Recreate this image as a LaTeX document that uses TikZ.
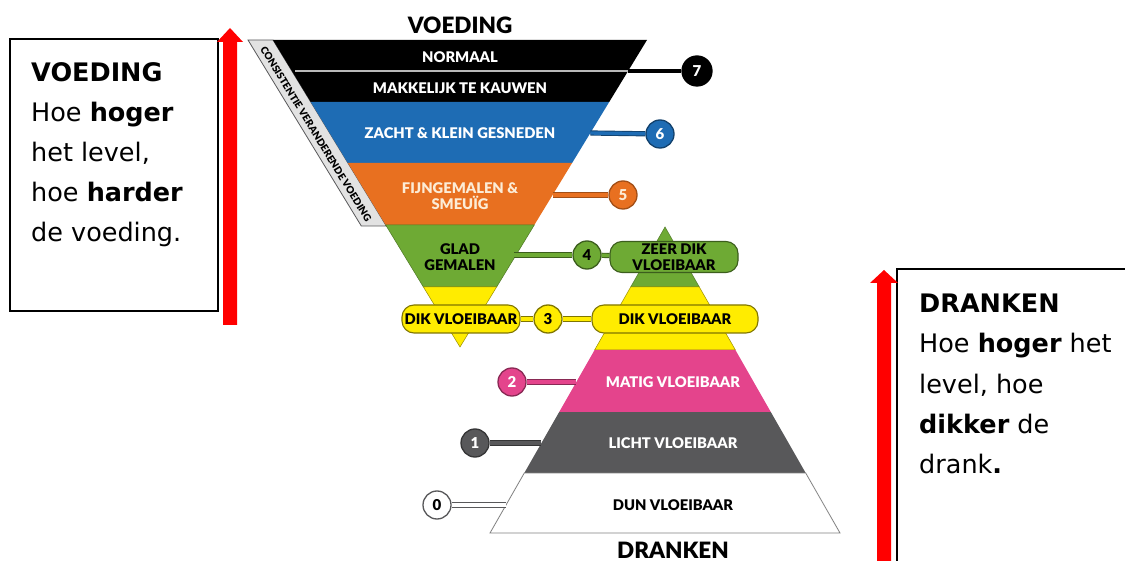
\documentclass[tikz,border=0pt]{standalone}
\usepackage{fontspec}
\setmainfont{DejaVu Sans}
\newfontfamily\lato{Lato}[BoldFont={Lato Black}]
\usetikzlibrary{calc}
\definecolor{vblue}{RGB}{30,108,180}
\definecolor{vorange}{RGB}{232,112,32}
\definecolor{vgreen}{RGB}{110,170,52}
\definecolor{vyellow}{RGB}{255,236,0}
\definecolor{vpink}{RGB}{228,68,140}
\definecolor{vgrey}{RGB}{88,88,90}
\definecolor{bandgrey}{RGB}{226,226,226}
\definecolor{cream}{RGB}{252,236,214}
\tikzset{
  lbl/.style={font=\lato\bfseries\fontsize{14.7}{16.5}\selectfont, align=center, inner sep=0},
  ttl/.style={font=\lato\bfseries\fontsize{22.5}{22.5}\selectfont, inner sep=0},
  num/.style={circle, minimum size=28pt, inner sep=0, line width=1.3pt, font=\lato\bfseries\fontsize{15}{15}\selectfont},
  conn/.style={line width=0.9pt, double distance=3.4pt},
  pill/.style={rounded corners=12pt, line width=1.1pt, inner sep=0, font=\lato\bfseries\fontsize{14.7}{16}\selectfont, align=center},
  boxtxt/.style={anchor=base west, inner sep=0, font=\fontsize{25.5}{30}\selectfont},
  frame/.style={draw=black, line width=1.6pt},
  redarrow/.style={fill=red, draw=none}
}
\begin{document}
\begin{tikzpicture}[x=1pt,y=-1pt]
\useasboundingbox (0,0) rectangle (1125,561);
\fill[white] (0,0) rectangle (1125,561);

% ---------- left text box ----------
\node[frame, anchor=north west, minimum width=208pt, minimum height=272pt, inner sep=0] (lbox) at (9,38) {};
\node[boxtxt] (l1) at (31,82) {\textbf{VOEDING}};
\node[boxtxt] (l2) at (31,122) {Hoe \textbf{hoger}};
\node[boxtxt] (l3) at (31,162) {het level,};
\node[boxtxt] (l4) at (31,202) {hoe \textbf{harder}};
\node[boxtxt] (l5) at (31,242) {de voeding.};
\fill[redarrow] (223,325) -- (223,42) -- (217,42) -- (230,28) -- (243,42) -- (237,42) -- (237,325) -- cycle;

% ---------- right text box ----------
\draw[frame] (1130,269) -- (897,269) -- (897,566);
\node[boxtxt] (r1) at (919,313) {\textbf{DRANKEN}};
\node[boxtxt] (r2) at (919,353) {Hoe \textbf{hoger} het};
\node[boxtxt] (r3) at (919,393) {level, hoe};
\node[boxtxt] (r4) at (919,433) {\textbf{dikker} de};
\node[boxtxt] (r5) at (919,473) {drank\textbf{.}};
\fill[redarrow] (877,566) -- (877,283) -- (870,283) -- (884,270) -- (898,283) -- (891,283) -- (891,566) -- cycle;

% ---------- VOEDING (inverted triangle) ----------
\node[ttl] (tv) at (460,25) {VOEDING};
\filldraw[fill=bandgrey, draw=vgrey, line width=0.8pt] (248,40) -- (273,40) -- (386.3,226) -- (361.3,226) -- cycle;
\node[inner sep=0, rotate=-58.6, font=\lato\bfseries\fontsize{10}{10}\selectfont] (side) at (316,134) {CONSISTENTIE VERANDERENDE VOEDING};
\fill[black] (273,40) -- (647,40) -- (609.2,102) -- (310.8,102) -- cycle;
\fill[vblue] (310.8,102) -- (609.2,102) -- (572.1,163) -- (347.9,163) -- cycle;
\fill[vorange] (347.9,163) -- (572.1,163) -- (534.3,225) -- (385.7,225) -- cycle;
\filldraw[fill=vgreen, draw=vgreen!70!black, line width=0.5pt] (385.7,225) -- (534.3,225) -- (496.6,287) -- (423.4,287) -- cycle;
\filldraw[fill=vyellow, draw=vyellow!60!black, line width=0.5pt] (423.4,287) -- (496.6,287) -- (460,347) -- cycle;

\node[lbl, text=white] (v7a) at (460,57) {NORMAAL};
\node[lbl, text=white] (v7b) at (460,88) {MAKKELIJK TE KAUWEN};
\node[lbl, text=white] (v6) at (460,133) {ZACHT \& KLEIN GESNEDEN};
\node[lbl, text=cream] (v5) at (460,196) {FIJNGEMALEN \&\\SMEUÏG};
\node[lbl, text=black] (v4) at (460,257) {GLAD\\GEMALEN};

% ---------- DRANKEN (pyramid) ----------
\filldraw[fill=vgreen, draw=vgreen!70!black, line width=0.5pt] (665,227) -- (699.3,287) -- (630.7,287) -- cycle;
\filldraw[fill=vyellow, draw=vyellow!60!black, line width=0.5pt] (630.7,287) -- (699.3,287) -- (735.4,350) -- (594.6,350) -- cycle;
\fill[vpink] (594.6,350) -- (735.4,350) -- (770.8,412) -- (559.2,412) -- cycle;
\fill[vgrey] (559.2,412) -- (770.8,412) -- (805.7,473) -- (524.3,473) -- cycle;
\filldraw[fill=white, draw=gray, line width=0.8pt] (524.3,473) -- (805.7,473) -- (840,533) -- (490,533) -- cycle;

\node[lbl, text=white] (d2) at (673,382) {MATIG VLOEIBAAR};
\node[lbl, text=white] (d1) at (673,443) {LICHT VLOEIBAAR};
\node[lbl, text=black] (d0) at (673,505) {DUN VLOEIBAAR};
\node[ttl] (td) at (673,550) {DRANKEN};

% ---------- edge points ----------
\coordinate (s7) at (295,71);
\coordinate (e7) at (628.1,71);
\coordinate (e6) at (590.4,133);
\coordinate (e5) at (552.6,195);
\coordinate (e4) at (514,255);
\coordinate (e2) at (576.3,382);
\coordinate (e1) at (541.4,443);
\coordinate (e0) at (506,505);

% ---------- circles and pills ----------
\node[num, minimum size=30pt, fill=black, draw=black, text=white] (c7) at (697,71) {7};
\node[num, fill=vblue, draw=vblue!60!black, text=white] (c6) at (660,134) {6};
\node[num, fill=vorange, draw=vorange!70!black, text=cream] (c5) at (623,195) {5};
\node[num, fill=vgreen, draw=vgreen!55!black, text=black] (c4) at (587,255) {4};
\node[num, fill=vyellow, draw=vyellow!50!black, text=black] (c3) at (548,319) {3};
\node[num, fill=vpink, draw=vpink!60!black, text=white] (c2) at (512,382) {2};
\node[num, fill=vgrey, draw=vgrey!60!black, text=white] (c1) at (475,443) {1};
\node[num, fill=white, draw=vgrey, text=black] (c0) at (437,505) {0};

\node[pill, fill=vyellow, draw=vyellow!50!black, minimum width=118pt, minimum height=28pt] (p3l) at (461,319) {DIK VLOEIBAAR};
\node[pill, fill=vyellow, draw=vyellow!50!black, minimum width=166pt, minimum height=28pt] (p3r) at (675,319) {DIK VLOEIBAAR};
\node[pill, fill=vgreen, draw=vgreen!55!black, minimum width=128pt, minimum height=31pt] (p4) at (674,257) {ZEER DIK\\VLOEIBAAR};

% ---------- connectors ----------
\draw[line width=1.6pt, color=gray!55] (s7) -- (e7);
\draw[line width=3.4pt, color=black] (e7) -- (c7);
\draw[conn, draw=vblue!60!black, double=vblue] (e6) -- (c6);
\draw[conn, draw=vorange!70!black, double=vorange] (e5) -- (c5);
\draw[conn, draw=vgreen!55!black, double=vgreen] (e4) -- (c4);
\draw[conn, draw=vgreen!55!black, double=vgreen] (c4) -- (p4);
\draw[conn, draw=vyellow!50!black, double=vyellow] (p3l) -- (c3);
\draw[conn, draw=vyellow!50!black, double=vyellow] (c3) -- (p3r);
\draw[conn, draw=vpink!60!black, double=vpink] (c2) -- (e2);
\draw[conn, draw=vgrey!60!black, double=vgrey] (c1) -- (e1);
\draw[conn, draw=vgrey, double=white] (c0) -- (e0);
\end{tikzpicture}
\end{document}
